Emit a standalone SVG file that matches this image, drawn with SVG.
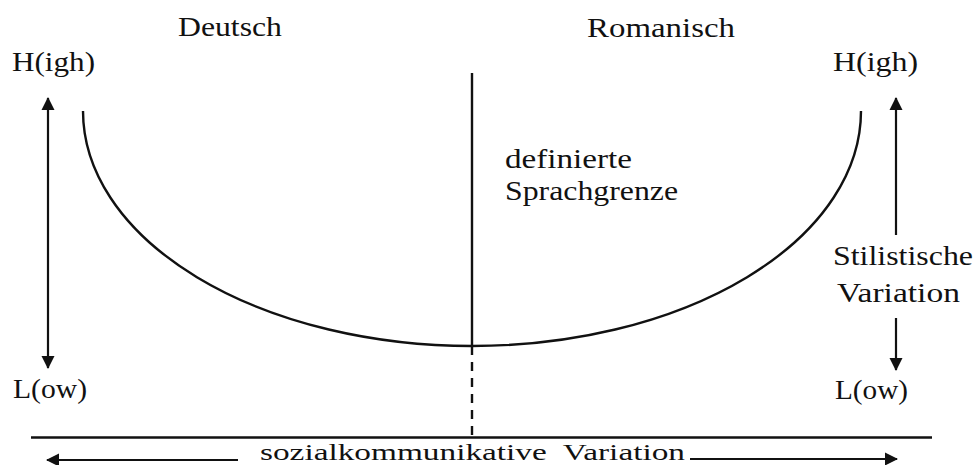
<svg xmlns="http://www.w3.org/2000/svg" width="976" height="465" viewBox="0 0 976 465">
<defs>
<marker id="ah" viewBox="0 0 13 14" refX="12" refY="7" markerWidth="13" markerHeight="14" markerUnits="userSpaceOnUse" orient="auto-start-reverse">
<path d="M0,0.5 L13,7 L0,13.5 Z" fill="#111"/>
</marker>
<style>
text{font-family:"Liberation Serif","Times New Roman",serif;font-size:27px;fill:#111}
.sm{font-size:24px}
.ln{stroke:#111;fill:none;stroke-width:2.4}
.ar{stroke:#111;fill:none;stroke-width:2.2;marker-end:url(#ah)}
</style>
</defs>
<rect width="976" height="465" fill="#fff"/>
<g id="labels">
<text x="178" y="36" textLength="104" lengthAdjust="spacingAndGlyphs">Deutsch</text>
<text x="587" y="37" textLength="148" lengthAdjust="spacingAndGlyphs">Romanisch</text>
<text x="12" y="71" textLength="83" lengthAdjust="spacingAndGlyphs">H(igh)</text>
<text x="833" y="71" textLength="85" lengthAdjust="spacingAndGlyphs">H(igh)</text>
<text x="13" y="398" textLength="74" lengthAdjust="spacingAndGlyphs">L(ow)</text>
<text x="835" y="399" textLength="73" lengthAdjust="spacingAndGlyphs">L(ow)</text>
</g>
<g id="grenze">
<text x="505" y="168" textLength="127" lengthAdjust="spacingAndGlyphs">definierte</text>
<text x="505" y="200" textLength="173" lengthAdjust="spacingAndGlyphs">Sprachgrenze</text>
</g>
<g id="stil">
<text x="833" y="265" textLength="140" lengthAdjust="spacingAndGlyphs">Stilistische</text>
<text x="837" y="302" textLength="123" lengthAdjust="spacingAndGlyphs">Variation</text>
</g>
<g id="sozial">
<text class="sm" x="260" y="460" textLength="425" lengthAdjust="spacingAndGlyphs" xml:space="preserve">sozialkommunikative  Variation</text>
</g>
<g id="connectors">
<path class="ln" d="M83,111 A389,235 0 0 0 861,111"/>
<line class="ln" x1="472" y1="73" x2="472" y2="346"/>
<line class="ln" x1="472" y1="346" x2="472" y2="436" stroke-dasharray="9,7" stroke-width="2"/>
<line class="ln" x1="31" y1="437.5" x2="932" y2="437.5"/>
<line class="ar" x1="48" y1="98" x2="48" y2="368" style="marker-start:url(#ah)"/>
<line class="ar" x1="896" y1="235" x2="896" y2="98"/>
<line class="ar" x1="896" y1="318" x2="896" y2="370"/>
<line class="ar" x1="238" y1="460" x2="47" y2="460"/>
<line class="ar" x1="690" y1="459" x2="897" y2="459"/>
</g>
</svg>
